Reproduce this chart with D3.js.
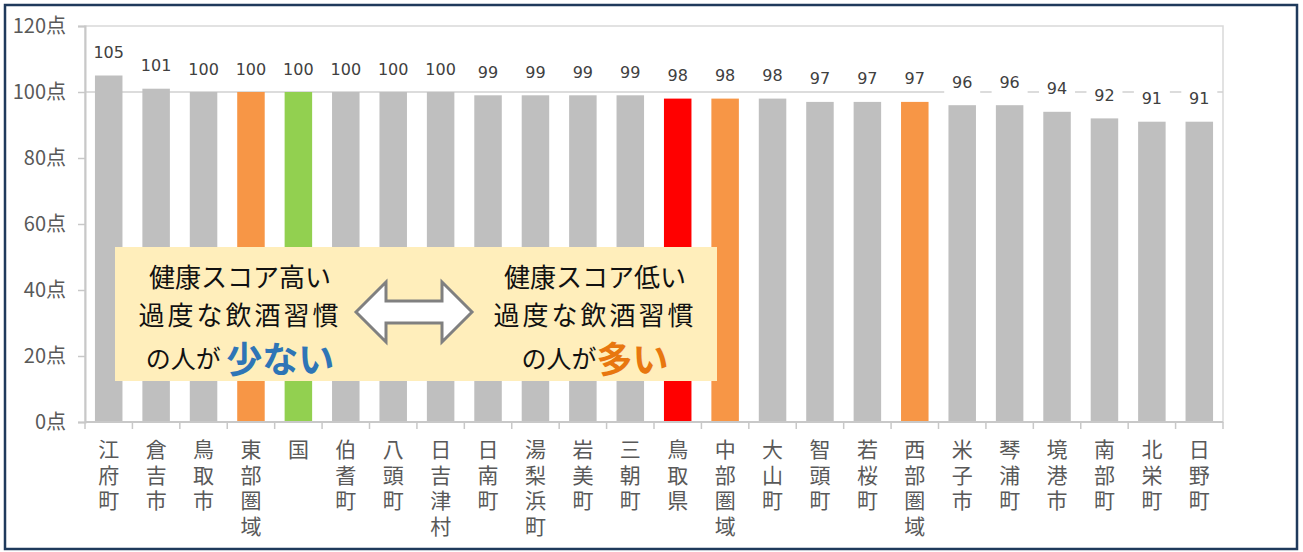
<!DOCTYPE html>
<html><head><meta charset="utf-8">
<script src="https://cdn.jsdelivr.net/npm/d3@7"></script>
<style>
html,body{margin:0;padding:0;background:#fff;}
svg{display:block;}
</style></head>
<body>
<script>
const categories = ["江府町","倉吉市","鳥取市","東部圏域","国","伯耆町","八頭町","日吉津村","日南町","湯梨浜町","岩美町","三朝町","鳥取県","中部圏域","大山町","智頭町","若桜町","西部圏域","米子市","琴浦町","境港市","南部町","北栄町","日野町"];
const values = [105,101,100,100,100,100,100,100,99,99,99,99,98,98,98,97,97,97,96,96,94,92,91,91];
const highlight = {"東部圏域":"orange","国":"green","鳥取県":"red","中部圏域":"orange","西部圏域":"orange"};
const yTicks = [0,20,40,60,80,100,120];
const refValue = 100;
const leftLines = ["健康スコア高い","過度な飲酒習慣","の人が "];
const leftEmph = "少ない";
const rightLines = ["健康スコア低い","過度な飲酒習慣","の人が"];
const rightEmph = "多い";

const colors = {gray:"#bfbfbf", orange:"#f79646", green:"#92d050", red:"#ff0000"};
const W = 1303, H = 552;
const m = {l:85, r:1223, t:26, b:422};
const font = "'Noto Sans CJK JP','Noto Sans',sans-serif";
const numFont = "'DejaVu Sans','Noto Sans CJK JP',sans-serif";

const svg = d3.select("body").append("svg").attr("width",W).attr("height",H);
svg.append("rect").attr("width",W).attr("height",H).attr("fill","#fff");
// outer frame
svg.append("rect").attr("x",5).attr("y",5).attr("width",1292).attr("height",544)
  .attr("fill","none").attr("stroke","#1f3a5c").attr("stroke-width",2.5);

const x = d3.scaleBand().domain(categories).range([m.l,m.r]).paddingInner(0.42).paddingOuter(0.21);
const y = d3.scaleLinear().domain([0,120]).range([m.b,m.t]);

// plot frame
svg.append("rect").attr("x",m.l).attr("y",m.t).attr("width",m.r-m.l).attr("height",m.b-m.t)
  .attr("fill","none").attr("stroke","#d9d9d9").attr("stroke-width",1.5);
// reference line at 100
svg.append("line").attr("x1",m.l).attr("x2",m.r).attr("y1",y(refValue)).attr("y2",y(refValue))
  .attr("stroke","#d0d0d0").attr("stroke-width",1.5);

// bars
svg.append("g").selectAll("rect").data(categories).join("rect")
  .attr("x",d=>x(d)).attr("width",x.bandwidth())
  .attr("y",(d,i)=>y(values[i])).attr("height",(d,i)=>y(0)-y(values[i]))
  .attr("fill",d=>colors[highlight[d]||"gray"]);

// value labels with white background
const lg = svg.append("g");
categories.forEach((c,i)=>{
  const cx = x(c)+x.bandwidth()/2, cy = y(values[i])-23;
  lg.append("rect").attr("x",cx-18).attr("y",cy-11).attr("width",36).attr("height",22).attr("fill","#fff");
  lg.append("text").attr("x",cx).attr("y",cy).attr("text-anchor","middle").attr("dominant-baseline","central")
    .attr("font-family",numFont).attr("font-size",16).attr("fill","#404040").text(values[i]);
});

// y axis
const ya = svg.append("g").attr("transform",`translate(${m.l},0)`)
  .call(d3.axisLeft(y).tickValues(yTicks).tickSize(7).tickPadding(12).tickFormat(d=>d+"点"));
ya.attr("font-size",null).attr("font-family",null);
ya.select(".domain").attr("stroke","#c8c8c8").attr("stroke-width",2);
ya.selectAll(".tick line").attr("stroke","#c8c8c8").attr("stroke-width",1.5);
ya.selectAll(".tick text").style("font-family",font).style("font-size","20px").attr("fill","#595959");

// x axis line and ticks between categories
svg.append("line").attr("x1",m.l).attr("x2",m.r).attr("y1",m.b).attr("y2",m.b).attr("stroke","#c8c8c8").attr("stroke-width",2);
const step = x.step();
const bounds = d3.range(categories.length+1).map(i=> i===categories.length ? m.r : x(categories[i]) - x.paddingInner()*step/2);
svg.append("g").selectAll("line").data(bounds).join("line")
  .attr("x1",d=>d).attr("x2",d=>d).attr("y1",m.b).attr("y2",m.b+7).attr("stroke","#c8c8c8").attr("stroke-width",1.5);

// vertical category labels (one text per label, vertical writing mode)
svg.append("g").selectAll("text").data(categories).join("text")
  .attr("x",d=>x(d)+x.bandwidth()/2).attr("y",439)
  .style("writing-mode","vertical-rl").style("letter-spacing","4.5px")
  .attr("font-family",font).attr("font-size",21).attr("fill","#595959")
  .text(d=>d);

// annotation box
svg.append("rect").attr("x",115).attr("y",247).attr("width",602).attr("height",134).attr("fill","#ffeebb");
function block(cx, lines, emph, emphColor){
  const ys=[275,313,357];
  const sp=[0,3];
  lines.slice(0,2).forEach((l,k)=>{
    svg.append("text").attr("x",cx).attr("y",ys[k]).attr("dominant-baseline","central").attr("text-anchor","middle")
      .style("letter-spacing",sp[k]+"px")
      .attr("font-family",font).attr("font-size",26).attr("fill","#111").text(l);
  });
  const t = svg.append("text").attr("x",cx).attr("y",ys[2]).attr("dominant-baseline","central").attr("text-anchor","middle")
    .attr("font-family",font).attr("fill","#111");
  t.append("tspan").attr("font-size",25).text(lines[2]);
  t.append("tspan").attr("font-size",36).attr("font-weight","bold").attr("fill",emphColor).text(emph);
}
block(240, leftLines, leftEmph, "#2e75b6");
block(595, rightLines, rightEmph, "#e8770f");

// double arrow
const ax0=356, ax1=472, ay=312, hw=30, bh=11, hl=30;
const pts=[[ax0,ay],[ax0+hl,ay-hw],[ax0+hl,ay-bh],[ax1-hl,ay-bh],[ax1-hl,ay-hw],[ax1,ay],[ax1-hl,ay+hw],[ax1-hl,ay+bh],[ax0+hl,ay+bh],[ax0+hl,ay+hw]];
svg.append("polygon").attr("points",pts.map(p=>p.join(",")).join(" "))
  .attr("fill","#fff").attr("stroke","#808080").attr("stroke-width",3).attr("stroke-linejoin","miter");
</script>
</body></html>
